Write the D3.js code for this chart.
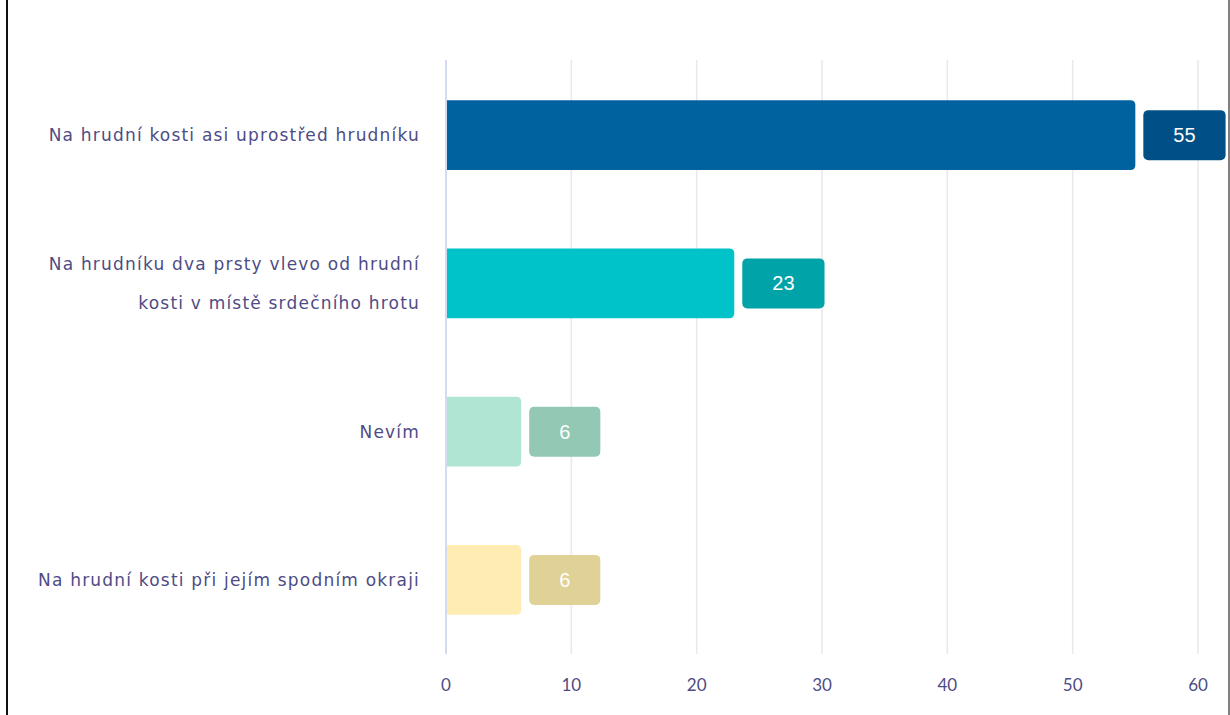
<!DOCTYPE html>
<html>
<head>
<meta charset="utf-8">
<script src="https://d3js.org/d3.v7.min.js"></script>
<style>
  body { margin: 0; background: #fff; }
  svg { display: block; }
</style>
</head>
<body>
<div id="chart"></div>
<script>
// data
var categories = [
  ["Na hrudní kosti asi uprostřed hrudníku"],
  ["Na hrudníku dva prsty vlevo od hrudní", "kosti v místě srdečního hrotu"],
  ["Nevím"],
  ["Na hrudní kosti při jejím spodním okraji"]
];
var values = [55, 23, 6, 6];
var ticks = [0, 10, 20, 30, 40, 50, 60];
var barColors = ["#00629e", "#00c2c9", "#b0e5d3", "#feecb2"];
var boxColors = ["#004f86", "#00a3a8", "#93c8b4", "#e0d196"];

var W = 1230, H = 715;
var svg = d3.select("#chart").append("svg")
  .attr("width", W)
  .attr("height", H);

// frame sides
svg.append("line").attr("x1", 7).attr("x2", 7).attr("y1", 0).attr("y2", H)
  .attr("stroke", "#111").attr("stroke-width", 2);
svg.append("line").attr("x1", 1229).attr("x2", 1229).attr("y1", 0).attr("y2", H)
  .attr("stroke", "#555").attr("stroke-width", 1.5);

var x = d3.scaleLinear().domain([0, 60]).range([446, 1198]);
var y = d3.scaleBand().domain(d3.range(values.length)).range([61, 654]).paddingInner(0.53).paddingOuter(0.265);

var textColor = "#4e4c85";

// grid
svg.selectAll("line.grid")
  .data(ticks.slice(1))
  .enter().append("line")
  .attr("class", "grid")
  .attr("x1", d => x(d)).attr("x2", d => x(d))
  .attr("y1", 60).attr("y2", 654)
  .attr("stroke", "#e8e8ee").attr("stroke-width", 1.5);

svg.append("line")
  .attr("x1", x(0)).attr("x2", x(0)).attr("y1", 60).attr("y2", 654)
  .attr("stroke", "#d5dbee").attr("stroke-width", 2);

// tick labels
svg.selectAll("text.tick")
  .data(ticks)
  .enter().append("text")
  .attr("class", "tick")
  .attr("x", d => x(d))
  .attr("y", 691)
  .attr("text-anchor", "middle")
  .attr("font-family", "Lato, sans-serif")
  .attr("font-size", 17)
  .attr("fill", textColor)
  .text(d => d);

// bars with rounded right end
function barPath(x0, x1, y0, h, r) {
  return "M" + x0 + "," + y0 +
    "H" + (x1 - r) + "Q" + x1 + "," + y0 + " " + x1 + "," + (y0 + r) +
    "V" + (y0 + h - r) + "Q" + x1 + "," + (y0 + h) + " " + (x1 - r) + "," + (y0 + h) +
    "H" + x0 + "Z";
}

svg.selectAll("path.bar")
  .data(values)
  .enter().append("path")
  .attr("class", "bar")
  .attr("d", (d, i) => barPath(x(0) + 1, x(d), y(i), y.bandwidth(), 5))
  .attr("fill", (d, i) => barColors[i]);

// value boxes
var vals = svg.selectAll("g.val")
  .data(values)
  .enter().append("g")
  .attr("class", "val");

vals.append("text")
  .attr("font-family", "'Liberation Sans', Arial, sans-serif")
  .attr("font-size", 20)
  .attr("fill", "#fff")
  .attr("text-anchor", "middle")
  .attr("y", (d, i) => y(i) + y.bandwidth() / 2 + 7)
  .text(d => d)
  .each(function(d, i) {
    var w = this.getComputedTextLength() + 60;
    var bx = x(d) + 8;
    this.setAttribute("x", bx + w / 2);
    d3.select(this.parentNode).insert("rect", "text")
      .attr("x", bx)
      .attr("y", y(i) + y.bandwidth() / 2 - 25)
      .attr("width", w)
      .attr("height", 50)
      .attr("rx", 5)
      .attr("fill", boxColors[i]);
  });

// category labels
svg.selectAll("text.cat")
  .data(categories)
  .enter().append("text")
  .attr("class", "cat")
  .attr("text-anchor", "end")
  .attr("font-family", "'DejaVu Sans', sans-serif")
  .attr("font-size", 17)
  .attr("letter-spacing", 1.2)
  .attr("fill", textColor)
  .each(function(lines, i) {
    var cy = y(i) + y.bandwidth() / 2;
    var lh = 39;
    var start = cy - (lines.length - 1) * lh / 2 + 6;
    d3.select(this).selectAll("tspan")
      .data(lines)
      .enter().append("tspan")
      .attr("x", 420)
      .attr("y", (l, j) => start + j * lh)
      .text(l => l);
  });
</script>
</body>
</html>
